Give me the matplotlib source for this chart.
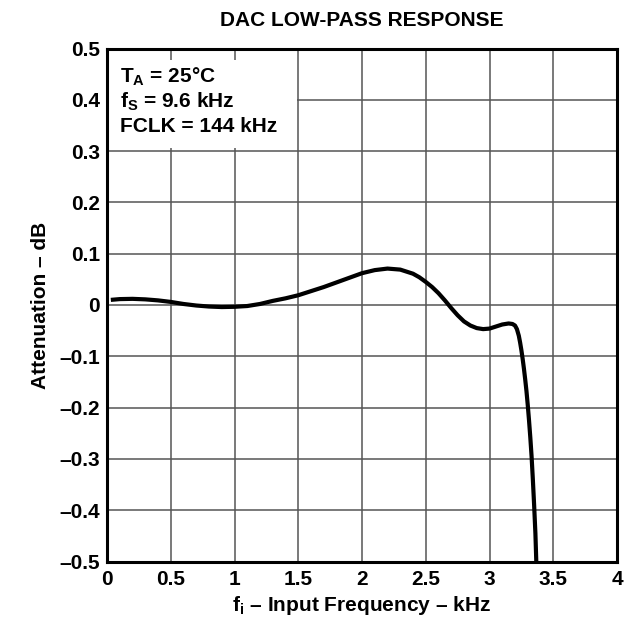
import matplotlib
matplotlib.use("Agg")
import matplotlib.pyplot as plt
from matplotlib.patches import Rectangle

plt.rcParams['font.family'] = ['Liberation Sans', 'DejaVu Sans']
plt.rcParams['mathtext.fontset'] = 'custom'
plt.rcParams['mathtext.bf'] = 'Liberation Sans:bold'
plt.rcParams['mathtext.rm'] = 'Liberation Sans'

freq_khz = [0.03, 0.1, 0.2, 0.3, 0.4, 0.5, 0.6, 0.7, 0.8, 0.9, 1.0, 1.1, 1.2, 1.3, 1.4,
            1.5, 1.6, 1.7, 1.8, 1.9, 2.0, 2.1, 2.2, 2.3, 2.4, 2.45, 2.5, 2.55, 2.6, 2.65,
            2.7, 2.75, 2.8, 2.85, 2.9, 2.95, 3.0, 3.05, 3.1, 3.15, 3.18, 3.2, 3.215, 3.23,
            3.24, 3.25, 3.26, 3.27, 3.28, 3.29, 3.3, 3.31, 3.32, 3.33, 3.34, 3.35, 3.36, 3.367]
atten_db = [0.010, 0.0115, 0.012, 0.011, 0.009, 0.006, 0.002, -0.001, -0.003, -0.004,
            -0.0035, -0.002, 0.002, 0.008, 0.013, 0.019, 0.027, 0.035, 0.044, 0.053,
            0.062, 0.068, 0.071, 0.069, 0.061, 0.054, 0.045, 0.035, 0.023, 0.009,
            -0.006, -0.020, -0.032, -0.040, -0.045, -0.047, -0.046, -0.042, -0.038,
            -0.036, -0.037, -0.040, -0.047, -0.060, -0.073, -0.088, -0.105, -0.124,
            -0.145, -0.168, -0.195, -0.225, -0.258, -0.295, -0.340, -0.390, -0.445, -0.500]

xticks = [0, 0.5, 1, 1.5, 2, 2.5, 3, 3.5, 4]
xtick_labels = ['0', '0.5', '1', '1.5', '2', '2.5', '3', '3.5', '4']
yticks = [-0.5, -0.4, -0.3, -0.2, -0.1, 0, 0.1, 0.2, 0.3, 0.4, 0.5]
ytick_labels = ['–0.5', '–0.4', '–0.3', '–0.2', '–0.1', '0', '0.1', '0.2', '0.3', '0.4', '0.5']

FS = 15

fig = plt.figure(figsize=(6.26, 6.28), dpi=100)
ax = fig.add_axes([107/626, 1 - 561.5/628, 510/626, 513/628])
ax.set_xlim(0, 4)
ax.set_ylim(-0.5, 0.5)
ax.set_xticks(xticks)
ax.set_xticklabels(xtick_labels, fontsize=FS, fontweight='bold')
ax.set_yticks(yticks)
ax.set_yticklabels(ytick_labels, fontsize=FS, fontweight='bold')
ax.tick_params(axis='x', length=0, pad=6)
ax.tick_params(axis='y', length=0, pad=5)
ax.grid(True, color='#555555', linewidth=1.1, zorder=1)
ax.set_axisbelow(True)
for s in ax.spines.values():
    s.set_linewidth(2.2)
    s.set_color('black')
    s.set_zorder(5)

ax.add_patch(Rectangle((0, 0.306), 1.49, 0.172, facecolor='white', edgecolor='none', zorder=2))
ax.text(0.1, 0.446, r'T$_\mathbf{A}$ = 25°C', fontsize=FS, fontweight='bold', va='center', ha='left', zorder=3)
ax.text(0.1, 0.396, r'f$_\mathbf{S}$ = 9.6 kHz', fontsize=FS, fontweight='bold', va='center', ha='left', zorder=3)
ax.text(0.1, 0.347, 'FCLK = 144 kHz', fontsize=FS, fontweight='bold', va='center', ha='left', zorder=3)

ax.plot(freq_khz, atten_db, color='black', linewidth=3, zorder=4, solid_capstyle='butt', solid_joinstyle='round')

ax.set_title('DAC LOW-PASS RESPONSE', fontsize=15, fontweight='bold', pad=16)
ax.set_xlabel(r'f$_\mathbf{i}$ – Input Frequency – kHz', fontsize=FS, fontweight='bold', labelpad=4)
ax.set_ylabel('Attenuation – dB', fontsize=FS, fontweight='bold', labelpad=7)

fig.savefig('out.png', dpi=100)
